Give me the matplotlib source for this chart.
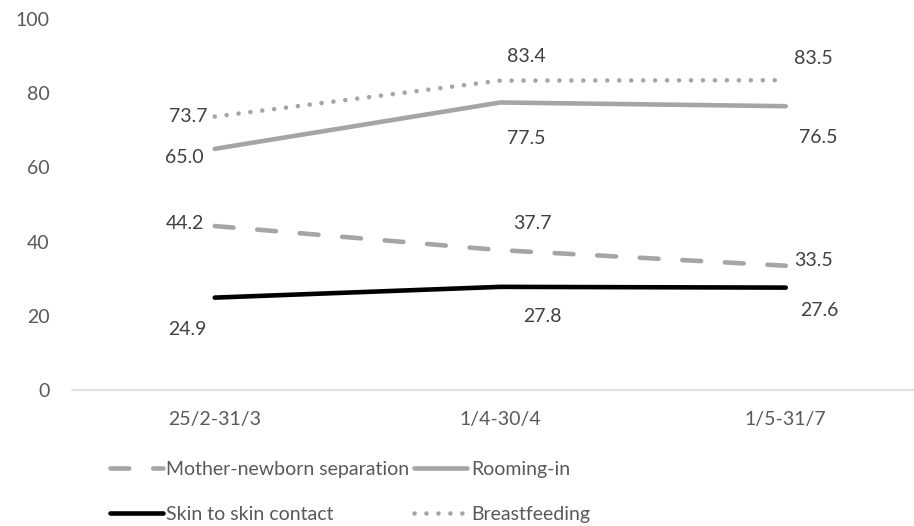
import matplotlib
matplotlib.use("Agg")
import matplotlib.pyplot as plt

plt.rcParams['font.family'] = ['Lato', 'DejaVu Sans']

periods = ["25/2-31/3", "1/4-30/4", "1/5-31/7"]
separation = [44.2, 37.7, 33.5]
rooming_in = [65.0, 77.5, 76.5]
skin_to_skin = [24.9, 27.8, 27.6]
breastfeeding = [73.7, 83.4, 83.5]

# label offsets (pixels) for each point, per series
sep_off = [(-30, 3), (32, 27), (28, 5)]
room_off = [(-30, -9), (26, -36), (33, -31)]
skin_off = [(-27, -32), (42, -30), (34, -23)]
breast_off = [(-27, 0), (26, 24), (28, 22)]

GREY = "#A5A5A5"
LBL = "#404040"
TICK = "#595959"
LW = 3.3
FS = 14

fig = plt.figure(figsize=(9.14, 5.26), dpi=100)
ax = fig.add_axes([72 / 914, 1 - 390 / 526, 856.5 / 914, 371 / 526])

x = list(range(len(periods)))

styles = [
    (separation, "Mother-newborn separation", GREY, (0, (4.1, 5.2)), sep_off),
    (rooming_in, "Rooming-in", GREY, "-", room_off),
    (skin_to_skin, "Skin to skin contact", "black", "-", skin_off),
    (breastfeeding, "Breastfeeding", GREY, (0, (0.01, 2.6)), breast_off),
]

handles = {}
for vals, name, col, ls, offs in styles:
    ln, = ax.plot(x, vals, color=col, linestyle=ls, lw=LW,
                  dash_capstyle="round", solid_capstyle="round", label=name)
    handles[name] = ln
    for xi, v, (dx, dy) in zip(x, vals, offs):
        ax.annotate(f"{v:.1f}", (xi, v), xytext=(dx, dy), textcoords="offset pixels",
                    ha="center", va="center", fontsize=FS, color=LBL)

ax.set_xlim(-0.5, 2.5)
ax.set_ylim(0, 100)
ax.set_yticks([0, 20, 40, 60, 80, 100])
ax.set_xticks(x)
ax.set_xticklabels(periods)
for s in ["top", "right", "left"]:
    ax.spines[s].set_visible(False)
ax.spines["bottom"].set_color("#D9D9D9")
ax.spines["bottom"].set_linewidth(1.1)
ax.tick_params(axis="both", length=0, labelsize=FS, labelcolor=TICK)
ax.tick_params(axis="y", pad=16)
ax.tick_params(axis="x", pad=15)

order = ["Mother-newborn separation", "Skin to skin contact", "Rooming-in", "Breastfeeding"]
fig.legend([handles[n] for n in order], order, ncol=2, frameon=False,
           loc="upper left", bbox_to_anchor=(110 / 914, 1 - 461 / 526),
           fontsize=FS, labelcolor=TICK, handlelength=2.7, handletextpad=0.2,
           columnspacing=0.25, labelspacing=1.45, borderpad=0, borderaxespad=0)

fig.savefig("out.png", dpi=100)
